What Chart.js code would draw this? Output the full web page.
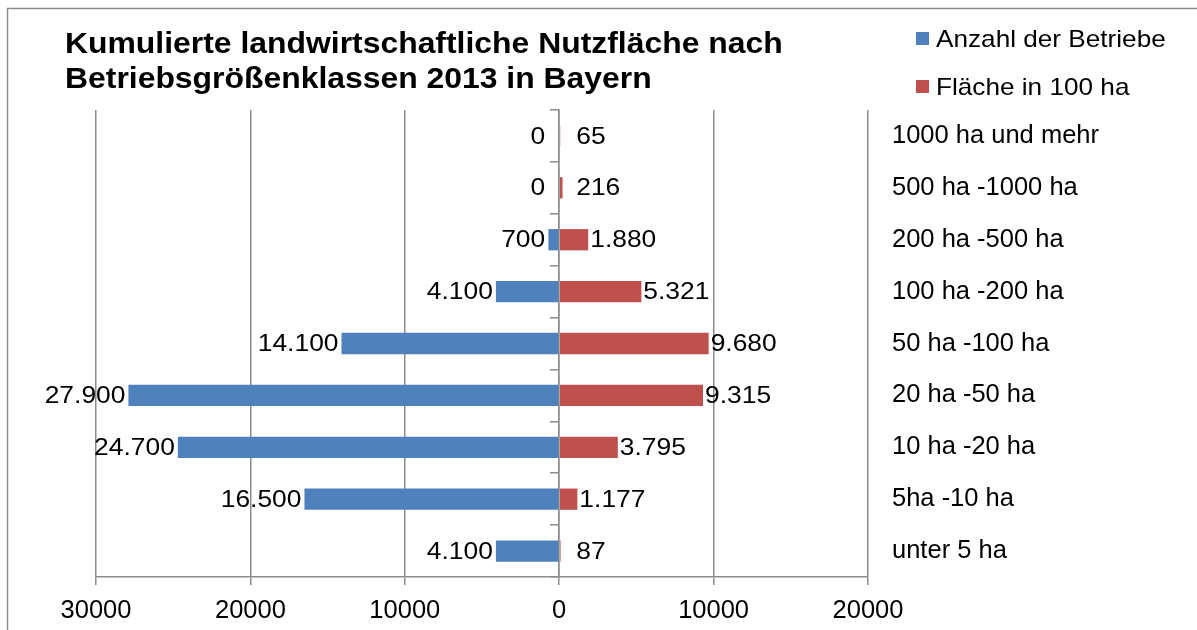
<!DOCTYPE html>
<html>
<head>
<meta charset="utf-8">
<script src="https://cdn.jsdelivr.net/npm/chart.js@4.4.1/dist/chart.umd.min.js"></script>
<style>
  html, body { margin: 0; padding: 0; background: #ffffff; }
  canvas { display: block; }
</style>
</head>
<body>
<canvas id="c" width="1197" height="630"></canvas>
<script>
// ---- data ----
const categories = ['1000 ha und mehr', '500 ha -1000 ha', '200 ha -500 ha', '100 ha -200 ha',
  '50 ha -100 ha', '20 ha -50 ha', '10 ha -20 ha', '5ha -10 ha', 'unter 5 ha'];
const anzahlBetriebe = [0, 0, 700, 4100, 14100, 27900, 24700, 16500, 4100];
const flaeche100ha = [65, 216, 1880, 5321, 9680, 9315, 3795, 1177, 87];
const seriesNames = ['Anzahl der Betriebe', 'Fläche in 100 ha'];
const xTickValues = [-30000, -20000, -10000, 0, 10000, 20000];
const titleLines = ['Kumulierte landwirtschaftliche Nutzfläche nach', 'Betriebsgrößenklassen 2013 in Bayern'];

const BLUE = '#4f81bd';
const RED = '#c0504d';
const GRID = '#8c8c8c';
const FONT = '"Liberation Sans", Arial, sans-serif';

function fmtDe(n) {
  return String(Math.abs(n)).replace(/\B(?=(\d{3})+(?!\d))/g, '.');
}

function stretchedText(ctx, txt, x, y, align, sx) {
  ctx.save();
  ctx.translate(x, y);
  ctx.scale(sx, 1);
  ctx.textAlign = align;
  ctx.fillText(txt, 0, 0);
  ctx.restore();
}

const extrasPlugin = {
  id: 'extras',
  beforeDraw(chart) {
    const ctx = chart.ctx;
    ctx.save();
    ctx.fillStyle = '#ffffff';
    ctx.fillRect(0, 0, chart.width, chart.height);
    ctx.restore();
  },
  afterDatasetsDraw(chart) {
    const ctx = chart.ctx;
    const xs = chart.scales.x;
    const zeroX = xs.getPixelForValue(0);
    ctx.save();
    ctx.font = '24px ' + FONT;
    ctx.fillStyle = '#000000';
    ctx.textBaseline = 'middle';
    chart.data.datasets.forEach((ds, di) => {
      const meta = chart.getDatasetMeta(di);
      meta.data.forEach((bar, i) => {
        const raw = di === 0 ? anzahlBetriebe[i] : flaeche100ha[i];
        const txt = fmtDe(raw);
        const y = bar.y + 1;
        if (di === 0) {
          stretchedText(ctx, txt, Math.min(bar.x - 3, zeroX - 14), y, 'right', 1.1);
        } else {
          stretchedText(ctx, txt, Math.max(bar.x + 2, zeroX + 17), y, 'left', 1.1);
        }
      });
    });
    ctx.restore();
  },
  afterDraw(chart) {
    const ctx = chart.ctx;
    ctx.save();
    // outer frame
    ctx.strokeStyle = '#8c8c8c';
    ctx.lineWidth = 1.5;
    ctx.beginPath();
    ctx.moveTo(7.5, chart.height);
    ctx.lineTo(7.5, 8.5);
    ctx.lineTo(chart.width, 8.5);
    ctx.stroke();
    // title
    ctx.fillStyle = '#000000';
    ctx.font = 'bold 30px ' + FONT;
    ctx.textBaseline = 'middle';
    stretchedText(ctx, titleLines[0], 65, 45, 'left', 1.063);
    stretchedText(ctx, titleLines[1], 65, 80, 'left', 1.063);
    // legend
    const colors = [BLUE, RED];
    const ly = [39, 87];
    ctx.font = '24px ' + FONT;
    seriesNames.forEach((name, i) => {
      ctx.fillStyle = colors[i];
      ctx.fillRect(916, ly[i] - 7, 13, 13);
      ctx.fillStyle = '#000000';
      stretchedText(ctx, name, 936, ly[i] + 1, 'left', 1.09);
    });
    ctx.restore();
  }
};

new Chart(document.getElementById('c'), {
  type: 'bar',
  data: {
    labels: categories,
    datasets: [
      { label: seriesNames[0], data: anzahlBetriebe.map(v => -v), backgroundColor: BLUE,
        barPercentage: 0.41, categoryPercentage: 1.0, yAxisID: 'y' },
      { label: seriesNames[1], data: flaeche100ha, backgroundColor: RED,
        barPercentage: 0.41, categoryPercentage: 1.0, yAxisID: 'y' }
    ]
  },
  options: {
    indexAxis: 'y',
    responsive: false,
    animation: false,
    devicePixelRatio: 1,
    layout: { padding: { left: 96, top: 110, right: 0, bottom: 0 } },
    plugins: {
      legend: { display: false },
      title: { display: false },
      tooltip: { enabled: false }
    },
    scales: {
      x: {
        type: 'linear',
        stacked: true,
        min: -30000,
        max: 20000,
        afterBuildTicks(scale) { scale.ticks = xTickValues.map(v => ({ value: v })); },
        afterFit(scale) { scale.height = 53; },
        ticks: {
          color: '#000000',
          font: { family: FONT, size: 25.5 },
          padding: 11,
          callback: (v) => String(Math.abs(v))
        },
        grid: { color: GRID, lineWidth: 1.5, drawTicks: true, tickLength: 8 },
        border: { color: GRID, width: 1.5 }
      },
      y: {
        type: 'category',
        stacked: true,
        position: { x: 0 },
        offset: true,
        ticks: { display: false },
        grid: { offset: true, drawOnChartArea: false, drawTicks: true, tickLength: 8, color: GRID, lineWidth: 1.5 },
        border: { display: true, color: GRID, width: 1.5 }
      },
      y2: {
        type: 'category',
        position: 'right',
        offset: true,
        afterFit(scale) { scale.width = 329; },
        grid: { display: false, drawTicks: false },
        border: { display: false },
        ticks: {
          color: '#000000',
          font: { family: FONT, size: 25.5 },
          padding: 24,
          crossAlign: 'near'
        }
      }
    }
  },
  plugins: [extrasPlugin]
});
</script>
</body>
</html>
